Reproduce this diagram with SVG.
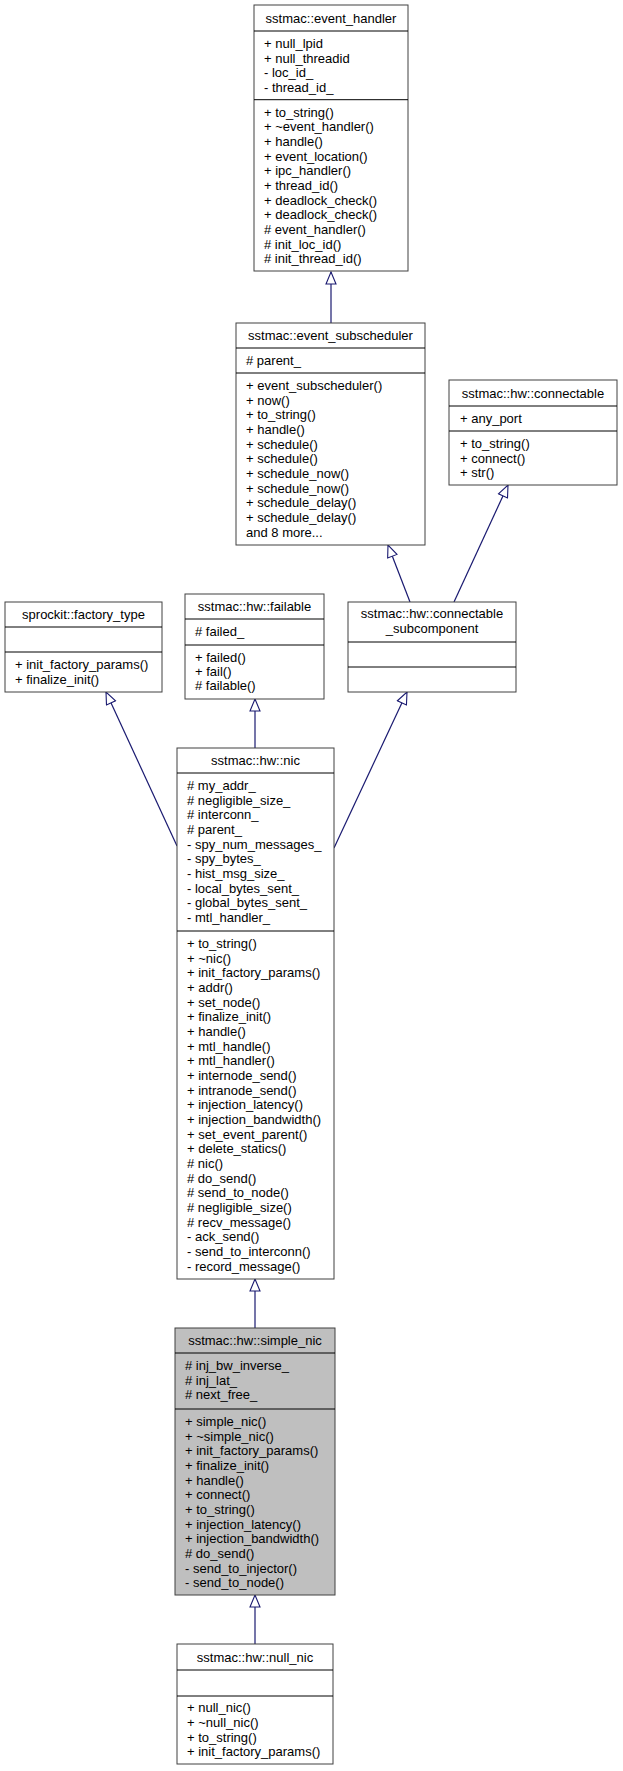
<svg xmlns="http://www.w3.org/2000/svg" width="623" height="1771" viewBox="0 0 623 1771">
<defs>
<style>
text{font-family:"Liberation Sans",Arial,sans-serif;font-size:13px;fill:#000}
.t{text-anchor:middle}
.box{fill:#fff;stroke:#404040;stroke-width:1}
.cur{fill:#bfbfbf;stroke:#404040;stroke-width:1}
.div{stroke:#000;stroke-width:1}
.edge{fill:none;stroke:#191970;stroke-width:1.2;marker-end:url(#inh)}
</style>
<marker id="inh" markerUnits="userSpaceOnUse" markerWidth="14" markerHeight="12" viewBox="0 0 14 12" refX="13" refY="6" orient="auto">
<path d="M1,1 L13,6 L1,11 Z" fill="#fff" stroke="#191970" stroke-width="1.1"/>
</marker>
</defs>
<rect width="623" height="1771" fill="#fff"/>

<g id="connectors">
<path class="edge" d="M331,323 L331,272"/>
<path class="edge" d="M410,602 L388,545"/>
<path class="edge" d="M454,602 L508,485"/>
<path class="edge" d="M177,846 L106,692"/>
<path class="edge" d="M255,748 L255,699"/>
<path class="edge" d="M334,848 L407,692"/>
<path class="edge" d="M255,1328 L255,1279"/>
<path class="edge" d="M255,1644 L255,1595"/>
</g>

<g id="event_handler">
<rect class="box" x="254" y="5" width="154" height="266"/>
<line class="div" x1="254" y1="31" x2="408" y2="31"/>
<line class="div" x1="254" y1="99.7" x2="408" y2="99.7"/>
<text class="t" x="331" y="22.5">sstmac::event_handler</text>
<text x="264" y="47.8">+ null_lpid</text>
<text x="264" y="62.5">+ null_threadid</text>
<text x="264" y="77.1">- loc_id_</text>
<text x="264" y="91.8">- thread_id_</text>
<text x="264" y="116.5">+ to_string()</text>
<text x="264" y="131.2">+ ~event_handler()</text>
<text x="264" y="145.8">+ handle()</text>
<text x="264" y="160.5">+ event_location()</text>
<text x="264" y="175.2">+ ipc_handler()</text>
<text x="264" y="189.8">+ thread_id()</text>
<text x="264" y="204.5">+ deadlock_check()</text>
<text x="264" y="219.2">+ deadlock_check()</text>
<text x="264" y="233.9"># event_handler()</text>
<text x="264" y="248.5"># init_loc_id()</text>
<text x="264" y="263.2"># init_thread_id()</text>
</g>

<g id="event_subscheduler">
<rect class="box" x="236" y="323" width="189" height="222"/>
<line class="div" x1="236" y1="348" x2="425" y2="348"/>
<line class="div" x1="236" y1="373" x2="425" y2="373"/>
<text class="t" x="330.5" y="340">sstmac::event_subscheduler</text>
<text x="246" y="364.8"># parent_</text>
<text x="246" y="389.8">+ event_subscheduler()</text>
<text x="246" y="404.5">+ now()</text>
<text x="246" y="419.1">+ to_string()</text>
<text x="246" y="433.8">+ handle()</text>
<text x="246" y="448.5">+ schedule()</text>
<text x="246" y="463.1">+ schedule()</text>
<text x="246" y="477.8">+ schedule_now()</text>
<text x="246" y="492.5">+ schedule_now()</text>
<text x="246" y="507.2">+ schedule_delay()</text>
<text x="246" y="521.8">+ schedule_delay()</text>
<text x="246" y="536.5">and 8 more...</text>
</g>

<g id="connectable">
<rect class="box" x="449" y="380" width="168" height="105"/>
<line class="div" x1="449" y1="406" x2="617" y2="406"/>
<line class="div" x1="449" y1="431" x2="617" y2="431"/>
<text class="t" x="533" y="397.5">sstmac::hw::connectable</text>
<text x="460" y="422.8">+ any_port</text>
<text x="460" y="447.8">+ to_string()</text>
<text x="460" y="462.5">+ connect()</text>
<text x="460" y="477.1">+ str()</text>
</g>

<g id="factory_type">
<rect class="box" x="5" y="602" width="157" height="90"/>
<line class="div" x1="5" y1="627" x2="162" y2="627"/>
<line class="div" x1="5" y1="652" x2="162" y2="652"/>
<text class="t" x="83.5" y="619">sprockit::factory_type</text>
<text x="15" y="668.8">+ init_factory_params()</text>
<text x="15" y="683.5">+ finalize_init()</text>
</g>

<g id="failable">
<rect class="box" x="185" y="594" width="139" height="105"/>
<line class="div" x1="185" y1="619" x2="324" y2="619"/>
<line class="div" x1="185" y1="645" x2="324" y2="645"/>
<text class="t" x="254.5" y="611">sstmac::hw::failable</text>
<text x="195" y="635.8"># failed_</text>
<text x="195" y="661.5">+ failed()</text>
<text x="195" y="675.8">+ fail()</text>
<text x="195" y="690.2"># failable()</text>
</g>

<g id="connectable_subcomponent">
<rect class="box" x="348" y="602" width="168" height="90"/>
<line class="div" x1="348" y1="642" x2="516" y2="642"/>
<line class="div" x1="348" y1="667" x2="516" y2="667"/>
<text class="t" x="432" y="617.5">sstmac::hw::connectable</text>
<text class="t" x="432" y="632.5">_subcomponent</text>
</g>

<g id="nic">
<rect class="box" x="177" y="748" width="157" height="531"/>
<line class="div" x1="177" y1="773" x2="334" y2="773"/>
<line class="div" x1="177" y1="931" x2="334" y2="931"/>
<text class="t" x="255.5" y="765">sstmac::hw::nic</text>
<text x="187" y="789.8"># my_addr_</text>
<text x="187" y="804.5"># negligible_size_</text>
<text x="187" y="819.1"># interconn_</text>
<text x="187" y="833.8"># parent_</text>
<text x="187" y="848.5">- spy_num_messages_</text>
<text x="187" y="863.2">- spy_bytes_</text>
<text x="187" y="877.8">- hist_msg_size_</text>
<text x="187" y="892.5">- local_bytes_sent_</text>
<text x="187" y="907.2">- global_bytes_sent_</text>
<text x="187" y="921.8">- mtl_handler_</text>
<text x="187" y="947.8">+ to_string()</text>
<text x="187" y="962.5">+ ~nic()</text>
<text x="187" y="977.1">+ init_factory_params()</text>
<text x="187" y="991.8">+ addr()</text>
<text x="187" y="1006.5">+ set_node()</text>
<text x="187" y="1021.1">+ finalize_init()</text>
<text x="187" y="1035.8">+ handle()</text>
<text x="187" y="1050.5">+ mtl_handle()</text>
<text x="187" y="1065.2">+ mtl_handler()</text>
<text x="187" y="1079.8">+ internode_send()</text>
<text x="187" y="1094.5">+ intranode_send()</text>
<text x="187" y="1109.2">+ injection_latency()</text>
<text x="187" y="1123.8">+ injection_bandwidth()</text>
<text x="187" y="1138.5">+ set_event_parent()</text>
<text x="187" y="1153.2">+ delete_statics()</text>
<text x="187" y="1167.8"># nic()</text>
<text x="187" y="1182.5"># do_send()</text>
<text x="187" y="1197.2"># send_to_node()</text>
<text x="187" y="1211.9"># negligible_size()</text>
<text x="187" y="1226.5"># recv_message()</text>
<text x="187" y="1241.2">- ack_send()</text>
<text x="187" y="1255.9">- send_to_interconn()</text>
<text x="187" y="1270.5">- record_message()</text>
</g>

<g id="simple_nic">
<rect class="cur" x="175" y="1328" width="160" height="267"/>
<line class="div" x1="175" y1="1353" x2="335" y2="1353"/>
<line class="div" x1="175" y1="1409" x2="335" y2="1409"/>
<text class="t" x="255" y="1345">sstmac::hw::simple_nic</text>
<text x="185" y="1369.8"># inj_bw_inverse_</text>
<text x="185" y="1384.5"># inj_lat_</text>
<text x="185" y="1399.1"># next_free_</text>
<text x="185" y="1425.8">+ simple_nic()</text>
<text x="185" y="1440.5">+ ~simple_nic()</text>
<text x="185" y="1455.1">+ init_factory_params()</text>
<text x="185" y="1469.8">+ finalize_init()</text>
<text x="185" y="1484.5">+ handle()</text>
<text x="185" y="1499.2">+ connect()</text>
<text x="185" y="1513.8">+ to_string()</text>
<text x="185" y="1528.5">+ injection_latency()</text>
<text x="185" y="1543.2">+ injection_bandwidth()</text>
<text x="185" y="1557.9"># do_send()</text>
<text x="185" y="1572.5">- send_to_injector()</text>
<text x="185" y="1587.2">- send_to_node()</text>
</g>

<g id="null_nic">
<rect class="box" x="177" y="1644" width="156" height="120"/>
<line class="div" x1="177" y1="1670" x2="333" y2="1670"/>
<line class="div" x1="177" y1="1696" x2="333" y2="1696"/>
<text class="t" x="255" y="1661.5">sstmac::hw::null_nic</text>
<text x="187" y="1712.3">+ null_nic()</text>
<text x="187" y="1727">+ ~null_nic()</text>
<text x="187" y="1741.6">+ to_string()</text>
<text x="187" y="1756.3">+ init_factory_params()</text>
</g>
</svg>
